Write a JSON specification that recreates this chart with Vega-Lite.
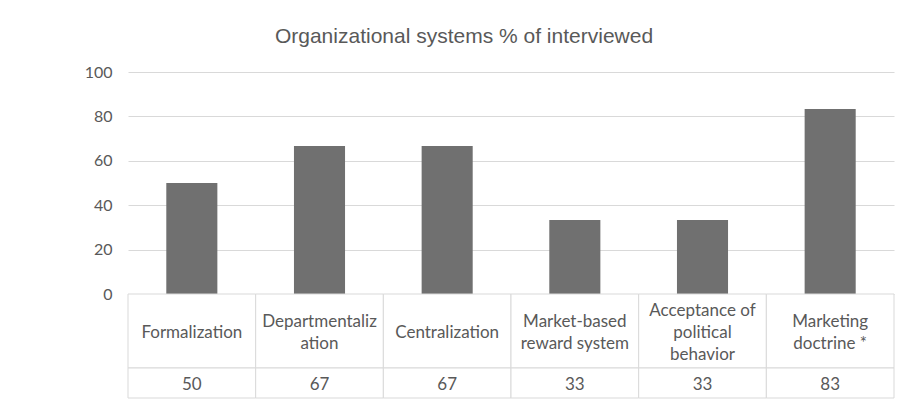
{
  "$schema": "https://vega.github.io/schema/vega-lite/v6.json",
  "padding": {"left": 84, "top": 26, "right": 0, "bottom": 0},
  "background": "white",
  "data": {
    "values": [
      {"category": "Formalization", "label": "Formalization", "pct": 50},
      {"category": "Departmentalization", "label": "Departmentaliz\nation", "pct": 66.67},
      {"category": "Centralization", "label": "Centralization", "pct": 66.67},
      {"category": "Market-based reward system", "label": "Market-based\nreward system", "pct": 33.33},
      {"category": "Acceptance of political behavior", "label": "Acceptance of\npolitical\nbehavior", "pct": 33.33},
      {"category": "Marketing doctrine *", "label": "Marketing\ndoctrine *", "pct": 83.33}
    ]
  },
  "spacing": 0,
  "bounds": "flush",
  "resolve": {"scale": {"x": "independent"}},
  "vconcat": [
    {
      "width": 766,
      "height": 222,
      "title": {
        "text": "Organizational systems % of interviewed",
        "anchor": "middle",
        "frame": "group",
        "dx": -47,
        "offset": 0,
        "baseline": "alphabetic",
        "font": "Liberation Sans",
        "fontSize": 21,
        "fontWeight": "normal",
        "color": "#595959"
      },
      "mark": {"type": "bar", "color": "#707070"},
      "encoding": {
        "x": {
          "field": "category",
          "type": "nominal",
          "sort": null,
          "scale": {"paddingInner": 0.6, "paddingOuter": 0.3},
          "axis": null
        },
        "y": {
          "field": "pct",
          "type": "quantitative",
          "scale": {"domain": [0, 100], "nice": false},
          "axis": {
            "values": [0, 20, 40, 60, 80, 100],
            "title": null,
            "domain": false,
            "ticks": false,
            "labelPadding": 16,
            "gridColor": "#d9d9d9",
            "gridWidth": 1,
            "labelFont": "Lato",
            "labelFontSize": 16,
            "labelColor": "#595959"
          }
        }
      }
    },
    {
      "width": 766,
      "height": 74,
      "encoding": {
        "x": {
          "field": "category",
          "type": "nominal",
          "sort": null,
          "scale": {"paddingInner": 0, "paddingOuter": 0},
          "axis": null
        }
      },
      "layer": [
        {"mark": {"type": "rect", "fill": "white", "stroke": "#d9d9d9", "strokeWidth": 1}},
        {
          "transform": [{"filter": "split(datum.label, '\\n').length == 1"}],
          "mark": {
            "type": "text",
            "lineBreak": "\n",
            "lineHeight": 22,
            "font": "Lato",
            "fontSize": 17,
            "color": "#595959",
            "baseline": "middle",
            "dy": 2
          },
          "encoding": {"text": {"field": "label"}}
        },
        {
          "transform": [{"filter": "split(datum.label, '\\n').length == 2"}],
          "mark": {
            "type": "text",
            "lineBreak": "\n",
            "lineHeight": 22,
            "font": "Lato",
            "fontSize": 17,
            "color": "#595959",
            "baseline": "middle",
            "dy": -9
          },
          "encoding": {"text": {"field": "label"}}
        },
        {
          "transform": [{"filter": "split(datum.label, '\\n').length == 3"}],
          "mark": {
            "type": "text",
            "lineBreak": "\n",
            "lineHeight": 22,
            "font": "Lato",
            "fontSize": 17,
            "color": "#595959",
            "baseline": "middle",
            "dy": -20
          },
          "encoding": {"text": {"field": "label"}}
        }
      ]
    },
    {
      "width": 766,
      "height": 30,
      "encoding": {
        "x": {
          "field": "category",
          "type": "nominal",
          "sort": null,
          "scale": {"paddingInner": 0, "paddingOuter": 0},
          "axis": null
        }
      },
      "layer": [
        {"mark": {"type": "rect", "fill": "white", "stroke": "#d9d9d9", "strokeWidth": 1}},
        {
          "mark": {
            "type": "text",
            "font": "Lato",
            "fontSize": 17,
            "color": "#595959",
            "baseline": "middle",
            "dy": 2
          },
          "encoding": {"text": {"field": "pct", "format": ".0f"}}
        }
      ]
    }
  ],
  "config": {"view": {"stroke": null}}
}
